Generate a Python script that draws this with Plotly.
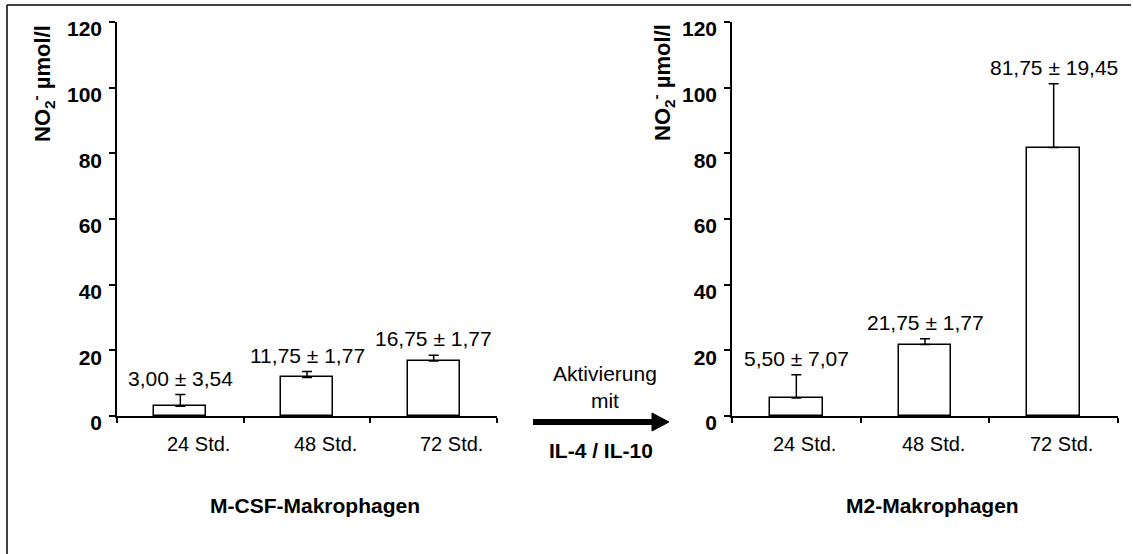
import plotly.graph_objects as go

W, H = 1133, 554

categories = ["24 Std.", "48 Std.", "72 Std."]
mcsf_values = [3.00, 11.75, 16.75]
mcsf_errors = [3.54, 1.77, 1.77]
m2_values = [5.50, 21.75, 81.75]
m2_errors = [7.07, 1.77, 19.45]
y_ticks = [0, 20, 40, 60, 80, 100, 120]
panel_titles = ["M-CSF-Makrophagen", "M2-Makrophagen"]
y_title = "<b>NO<sub>2</sub><sup>-</sup> µmol/l</b>"
arrow_text_top = "Aktivierung<br>mit"
arrow_text_bottom = "IL-4 / IL-10"

FONT = "Arial, Liberation Sans, sans-serif"
FS = 21


def px(x):
    return x / W


def py(y):
    return (H - y) / H


def fmt(v):
    return f"{v:.2f}".replace(".", ",")


def note(x, y, text, size=FS, angle=0, **kw):
    fig.add_annotation(x=x, y=y, text=text, showarrow=False, textangle=angle,
                       xanchor="center", yanchor="middle",
                       font=dict(family=FONT, size=size, color="black"), **kw)


fig = go.Figure()

xpos = list(range(len(categories)))

panels = [
    (mcsf_values, mcsf_errors, "x", "y", 18),
    (m2_values, m2_errors, "x2", "y2", 8),
]

for vals, errs, xa, ya, lshift in panels:
    fig.add_trace(go.Bar(
        x=xpos, y=vals, width=0.41,
        marker=dict(color="white", line=dict(color="black", width=1.5)),
        error_y=dict(type="data", array=errs, arrayminus=[0] * len(errs),
                     symmetric=False, color="black", thickness=1.5, width=5),
        xaxis=xa, yaxis=ya, showlegend=False, hoverinfo="skip",
    ))
    for i, (v, e) in enumerate(zip(vals, errs)):
        fig.add_annotation(
            x=i, y=v + e, xref=xa, yref=ya, xanchor="center", yanchor="bottom",
            yshift=3, text=f"{fmt(v)} ± {fmt(e)}", showarrow=False,
            font=dict(family=FONT, size=FS, color="black"),
        )
        note(i, py(444), categories[i], size=FS - 1, xref=xa, yref="paper",
             xshift=lshift)

ydom = [py(416), py(22)]
axis_common = dict(showline=True, linecolor="black", ticks="outside",
                   tickcolor="black", showgrid=False, zeroline=False)
ytick_font = dict(family=FONT, size=FS, weight="bold", color="black")

fig.update_layout(
    width=W, height=H,
    margin=dict(l=0, r=0, t=0, b=0, pad=0, autoexpand=False),
    paper_bgcolor="white", plot_bgcolor="white",
    font=dict(family=FONT, color="black"),
    bargap=0, showlegend=False,
    xaxis=dict(domain=[px(117), px(497)], range=[-0.5, 2.5],
               tickvals=[-0.5, 0.5, 1.5, 2.5], showticklabels=False,
               ticklen=5, linewidth=2, tickwidth=1.5, anchor="y", **axis_common),
    yaxis=dict(domain=ydom, range=[0, 120], tickvals=y_ticks, ticklen=6,
               linewidth=1.5, tickwidth=1.5, anchor="x", ticklabelshift=7,
               ticklabelstandoff=3, tickfont=ytick_font, **axis_common),
    xaxis2=dict(domain=[px(732), px(1118)], range=[-0.5, 2.5],
                tickvals=[-0.5, 0.5, 1.5, 2.5], showticklabels=False,
                ticklen=5, linewidth=2, tickwidth=1.5, anchor="y2", **axis_common),
    yaxis2=dict(domain=ydom, range=[0, 120], tickvals=y_ticks, ticklen=6,
                linewidth=1.5, tickwidth=1.5, anchor="x2", ticklabelshift=7,
                ticklabelstandoff=3, tickfont=ytick_font, **axis_common),
)

# y axis titles
for xc in (42, 662):
    note(px(xc), py(83), y_title, size=22, angle=-90, xref="paper", yref="paper")

# panel titles
for xc, t in zip((315, 932), panel_titles):
    note(px(xc), py(505), f"<b>{t}</b>", xref="paper", yref="paper")

# arrow texts
note(px(605), py(387), arrow_text_top, xref="paper", yref="paper")
note(px(601), py(450), f"<b>{arrow_text_bottom}</b>", xref="paper", yref="paper")

# arrow
fig.add_shape(type="line", xref="paper", yref="paper",
              x0=px(533), x1=px(655), y0=py(422), y1=py(422),
              line=dict(color="black", width=6))
fig.add_shape(type="path", xref="paper", yref="paper",
              path=f"M {px(652)} {py(413)} L {px(669)} {py(422)} L {px(652)} {py(431)} Z",
              fillcolor="black", line=dict(color="black", width=1))

# outer frame (partially visible)
fig.add_shape(type="line", xref="paper", yref="paper",
              x0=px(7), x1=px(1131), y0=py(5), y1=py(5),
              line=dict(color="black", width=1.5))
fig.add_shape(type="line", xref="paper", yref="paper",
              x0=px(7), x1=px(7), y0=py(5), y1=0,
              line=dict(color="black", width=1.5))

fig.write_html("out.html")
